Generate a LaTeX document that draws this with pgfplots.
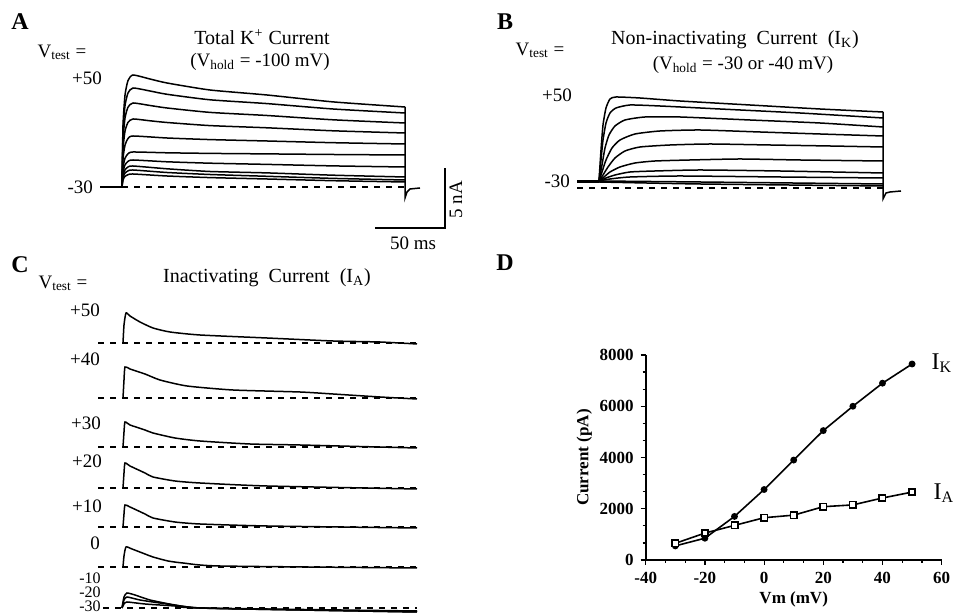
\documentclass[border=0pt]{standalone}
\usepackage{fontspec}
\setmainfont{Liberation Serif}
\usepackage{pgfplots}
\pgfplotsset{compat=1.18}
\tikzset{
  trace/.style={black, line width=0.75pt, no markers, smooth, tension=0.35},
  tail/.style={black, line width=0.75pt, no markers},
  base/.style={black, line width=0.7pt, no markers, dash pattern=on 3.2pt off 2.8pt},
  lbl/.style={font=\fontsize{9.5}{10}\selectfont},
  ttl/.style={font=\fontsize{10}{12}\selectfont},
  pan/.style={font=\bfseries\fontsize{12}{14}\selectfont},
  sml/.style={inner sep=0pt, font=\fontsize{8}{8}\selectfont},
}
\begin{document}
\begin{tikzpicture}
\path[use as bounding box] (0,0) rectangle (479.5pt,306.5pt);
% overlay axis in picture units for panels A-C
\begin{axis}[name=main, at={(0,0)}, anchor=south west, scale only axis,
  width=479.5pt, height=306.5pt, xmin=0, xmax=959, ymin=0, ymax=613,
  y dir=reverse, hide axis, clip=false]
% ---- panel A
\addplot[tail, line width=1.1pt] coordinates {(100,187) (122,187)};
\addplot[base] coordinates {(122,187) (405,187)};
\addplot[trace] coordinates {(122,187)(123,125.4)(125,95.2)(128,80.6)(133,75)(150,79)(167,83)(210,90)(267,95)(333,101.9)(405,107)};
\addplot[trace] coordinates {(122,187)(123,132.5)(125,105.8)(128,93)(133,88)(150,91)(167,94.3)(210,99.8)(267,103.6)(333,109)(405,113)};
\addplot[trace] coordinates {(122,187)(123,140.8)(125,118.1)(128,107.2)(133,103)(150,105.5)(167,108)(210,112.4)(267,115.5)(333,119.8)(405,123)};
\addplot[trace] coordinates {(122,187)(123,149.6)(125,131.2)(128,122.4)(133,119)(150,120.8)(167,122.5)(210,125.6)(267,127.8)(333,130.8)(405,133)};
\addplot[trace] coordinates {(122,187)(123,159)(125,145.2)(128,138.6)(133,136)(167,138)(210,139.6)(267,141)(333,142.7)(405,144)};
\addplot[trace] coordinates {(122,187)(123,167.8)(125,158.3)(128,153.8)(133,152)(167,152.8)(210,153.4)(267,153.9)(333,154.5)(405,155)};
\addplot[trace] coordinates {(122,187)(123,172.2)(125,164.9)(128,161.4)(133,160)(167,161.8)(210,163.2)(267,164.4)(333,165.9)(405,167)};
\addplot[trace] coordinates {(122,187)(123,175.5)(125,169.8)(128,167)(133,166)(167,168.8)(210,171.5)(267,172.9)(333,175.2)(405,177)};
\addplot[trace] coordinates {(122,187)(123,177.7)(125,173.1)(128,170.9)(133,170)(167,172.5)(210,174.5)(267,176.3)(333,178.4)(405,180)};
\addplot[trace] coordinates {(122,187)(123,179.9)(125,176.4)(128,174.7)(133,174)(167,176)(210,177.6)(267,179)(333,180.7)(405,182)};
\addplot[tail] coordinates {(405,107)(405,198)(407,192)(410,189)(420,188)};
% scale bar
\addplot[tail] coordinates {(375,228)(445,228)(445,168)};
\node[lbl, rotate=90] at (axis cs:456,200) {5 nA};
\node[lbl] at (axis cs:413,243) {50 ms};
\node[pan] at (axis cs:20,22) {A};
\node[ttl] at (axis cs:262,37) {Total K\textsuperscript{+} Current};
\node[lbl] at (axis cs:260,62) {(V\textsubscript{hold} = -100 mV)};
\node[lbl] at (axis cs:62,52) {V\textsubscript{test} =};
\node[lbl] at (axis cs:87,78) {+50};
\node[lbl, anchor=east] at (axis cs:100,187) {-30};
% ---- panel B
\addplot[tail, line width=1.5pt] coordinates {(577,181.5) (599,181.5)};
\addplot[base] coordinates {(577,188) (883,188)};
\addplot[trace] coordinates {(599,181)(601,150)(603,125)(606,108)(610,99)(616,97)(640,98)(680,101)(750,105)(820,109)(883,112)};
\addplot[trace] coordinates {(599,181)(601,160)(603,140)(606,123)(610,113)(616,108)(630,105)(660,106)(720,109)(800,113)(883,118)};
\addplot[trace] coordinates {(599,181)(602,165)(605,148)(609,135)(615,126)(625,120)(645,117)(680,117)(750,120)(820,123)(883,127)};
\addplot[trace] coordinates {(599,181)(602,172)(606,160)(612,148)(620,140)(635,134)(660,131)(700,130)(760,132)(820,134)(883,136)};
\addplot[trace] coordinates {(599,181)(603,175)(608,167)(615,158)(625,151)(640,147)(670,145)(710,144)(770,145)(830,146)(883,147)};
\addplot[trace] coordinates {(599,181)(604,177)(610,172)(620,167)(635,163)(655,161)(690,160)(740,159)(800,160)(883,161)};
\addplot[trace] coordinates {(599,181)(606,178)(615,175)(630,172)(655,171)(700,170)(780,171)(883,173)};
\addplot[trace] coordinates {(599,181)(610,179)(630,177)(680,176)(780,177)(883,178)};
\addplot[trace] coordinates {(599,181)(700,182)(883,184)};
\addplot[trace] coordinates {(599,182)(700,184)(883,186)};
\addplot[tail] coordinates {(883,112)(883,199)(886,193)(890,192)(901,191)};
\node[pan] at (axis cs:505,22) {B};
\node[ttl] at (axis cs:735,40) {Non-inactivating\ \ Current\ \ (I\textsubscript{K})};
\node[lbl] at (axis cs:743,65) {(V\textsubscript{hold} = -30 or -40 mV)};
\node[lbl] at (axis cs:540,50) {V\textsubscript{test} =};
\node[lbl] at (axis cs:557,95) {+50};
\node[lbl, anchor=east] at (axis cs:577,181) {-30};
% ---- panel C
\addplot[base] coordinates {(98,343)(417,343)};
\addplot[trace] coordinates {(123,343)(124,325)(126,313)(130,316)(140,322)(153,328)(170,332)(200,335)(267,338)(333,341)(380,342)(417,344)};
\addplot[base] coordinates {(98,398)(417,398)};
\addplot[trace] coordinates {(123,398)(124,380)(125,367)(130,369)(145,374)(160,380)(187,386)(233,390)(300,392)(333,394)(380,397)(417,399)};
\addplot[base] coordinates {(98,447)(417,447)};
\addplot[trace] coordinates {(123,447)(124,432)(125,422)(130,425)(145,430)(153,433)(175,438)(200,441)(250,444)(300,445)(417,448)};
\addplot[base] coordinates {(98,488)(417,488)};
\addplot[trace] coordinates {(123,488)(124,473)(125,463)(130,466)(145,473)(153,477)(175,481)(200,483)(267,486)(417,489)};
\addplot[base] coordinates {(98,527)(417,527)};
\addplot[trace] coordinates {(123,527)(124,514)(125,505)(130,507)(145,514)(153,518)(175,522)(200,524)(267,526)(417,528)};
\addplot[base] coordinates {(98,567)(417,567)};
\addplot[trace] coordinates {(123,567)(124,556)(126,547)(132,549)(145,554)(153,557)(168,561)(183,563)(220,566)(417,568)};
\addplot[base] coordinates {(103,608)(417,608)};
\addplot[trace] coordinates {(122,608)(124,597)(127,593)(135,595)(150,600)(175,605)(200,608)(300,610)(417,612)};
\addplot[trace] coordinates {(122,608)(124,600)(127,597)(140,600)(160,603)(200,608)(300,610)(417,612)};
\addplot[trace] coordinates {(122,608)(124,604)(127,602)(145,604)(175,606)(200,608)(417,611)};
\node[pan] at (axis cs:20,265) {C};
\node[ttl] at (axis cs:267,278) {Inactivating\ \ Current\ \ (I\textsubscript{A})};
\node[lbl] at (axis cs:63,283) {V\textsubscript{test} =};
\node[lbl] at (axis cs:85,310) {+50};
\node[lbl] at (axis cs:85,359) {+40};
\node[lbl] at (axis cs:86,423) {+30};
\node[lbl] at (axis cs:87,461) {+20};
\node[lbl] at (axis cs:87,506) {+10};
\node[lbl] at (axis cs:95,543) {0};
\node[sml] at (axis cs:90,578) {-10};
\node[sml] at (axis cs:90,592) {-20};
\node[sml] at (axis cs:90,606) {-30};
% ---- panel D labels
\node[pan] at (axis cs:505,263) {D};
\node[font=\fontsize{12}{14}\selectfont] at (axis cs:942,363) {I\textsubscript{K}};
\node[font=\fontsize{12}{14}\selectfont] at (axis cs:944,493) {I\textsubscript{A}};
\end{axis}
% ---- panel D: I-V curves
\begin{axis}[at={(322.85pt,26.5pt)}, anchor=south west, scale only axis,
  width=148pt, height=102.5pt,
  xmin=-40, xmax=60, ymin=0, ymax=8000,
  axis x line*=bottom, axis y line*=left,
  axis line style={line width=0.8pt, -},
  xtick={-40,-20,0,20,40,60}, ytick={0,2000,4000,6000,8000},
  minor tick num=2, tick align=outside,
  major tick length=2.5pt, minor tick length=1.5pt,
  tick style={line width=0.6pt, black},
  /pgf/number format/assume math mode=true,
  /pgf/number format/1000 sep={},
  every tick label/.append style={font=\bfseries\fontsize{8.5}{9}\selectfont},
  xlabel={Vm (mV)}, ylabel={Current (pA)},
  label style={font=\bfseries\fontsize{8.5}{9}\selectfont},
  xlabel style={yshift=3pt}, ylabel style={yshift=-3pt},
  clip=false]
\addplot[black, line width=0.8pt, mark=*, mark size=1.3pt] coordinates {(-30,550)(-20,850)(-10,1700)(0,2750)(10,3900)(20,5050)(30,6000)(40,6900)(50,7650)};
\addplot[black, line width=0.8pt, mark=square*, mark size=1.6pt, mark options={fill=white, line width=0.8pt}] coordinates {(-30,650)(-20,1050)(-10,1350)(0,1650)(10,1750)(20,2080)(30,2150)(40,2420)(50,2650)};
\end{axis}
\end{tikzpicture}
\end{document}
